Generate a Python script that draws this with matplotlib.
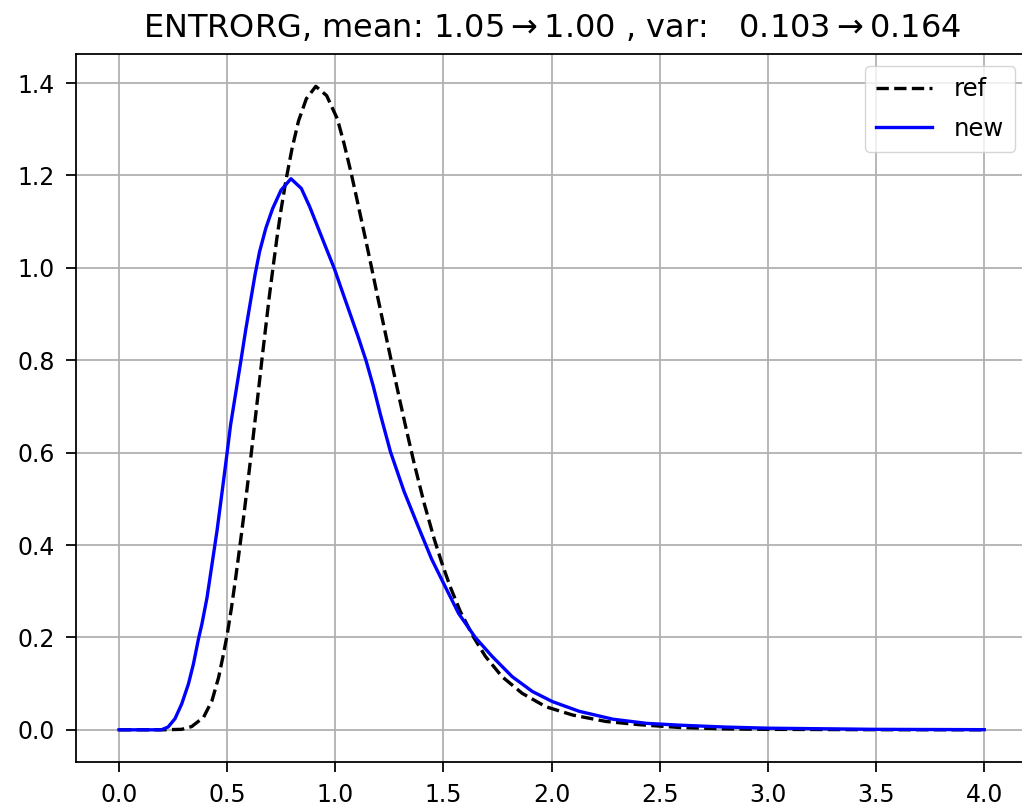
import matplotlib
matplotlib.use("Agg")
import matplotlib.pyplot as plt

# values
ref_x = [0.0, 0.20, 0.290, 0.336, 0.391, 0.430, 0.461, 0.480, 0.500, 0.520, 0.539,
         0.558, 0.575, 0.593, 0.611, 0.628, 0.645, 0.662, 0.679, 0.695, 0.712, 0.730,
         0.749, 0.772, 0.800, 0.830, 0.866, 0.910, 0.960, 1.010, 1.040, 1.072, 1.097,
         1.140, 1.168, 1.200, 1.240, 1.262, 1.298, 1.326, 1.364, 1.411, 1.458, 1.492,
         1.531, 1.578, 1.640, 1.694, 1.771, 1.864, 1.973, 2.097, 2.252, 2.407, 2.593,
         2.80, 3.00, 3.50, 4.00]
ref_y = [0.0, 0.0, 0.001, 0.007, 0.027, 0.063, 0.114, 0.157, 0.205, 0.264, 0.327,
         0.394, 0.456, 0.525, 0.596, 0.665, 0.735, 0.806, 0.874, 0.938, 1.000, 1.064,
         1.125, 1.190, 1.258, 1.318, 1.366, 1.393, 1.373, 1.322, 1.270, 1.208, 1.155,
         1.062, 1.000, 0.928, 0.840, 0.792, 0.714, 0.655, 0.578, 0.490, 0.412, 0.362,
         0.310, 0.256, 0.200, 0.159, 0.115, 0.079, 0.050, 0.032, 0.018, 0.011, 0.005,
         0.002, 0.001, 0.0002, 0.0]

new_x = [0.0, 0.196, 0.227, 0.259, 0.290, 0.321, 0.344, 0.368, 0.383, 0.407, 0.430,
         0.453, 0.477, 0.500, 0.516, 0.540, 0.564, 0.586, 0.609, 0.629, 0.650, 0.679,
         0.710, 0.749, 0.795, 0.843, 0.882, 0.921, 0.960, 0.996, 1.030, 1.069, 1.107,
         1.143, 1.175, 1.209, 1.255, 1.318, 1.380, 1.445, 1.506, 1.570, 1.647, 1.725,
         1.818, 1.911, 2.004, 2.128, 2.283, 2.438, 2.593, 2.80, 3.00, 3.50, 4.00]
new_y = [0.0, 0.0, 0.006, 0.024, 0.056, 0.099, 0.142, 0.198, 0.228, 0.286, 0.358,
         0.430, 0.516, 0.600, 0.660, 0.730, 0.800, 0.866, 0.930, 0.985, 1.035, 1.086,
         1.128, 1.168, 1.193, 1.172, 1.132, 1.086, 1.040, 0.998, 0.952, 0.900, 0.849,
         0.798, 0.745, 0.682, 0.602, 0.516, 0.444, 0.370, 0.312, 0.252, 0.200, 0.159,
         0.115, 0.083, 0.061, 0.040, 0.023, 0.014, 0.010, 0.006, 0.0035, 0.001, 0.0003]

title = r"ENTRORG, mean: $1.05\rightarrow1.00$ , var:   $0.103\rightarrow0.164$"

S = 1.6
plt.rcParams.update({
    "font.size": 17,
    "axes.linewidth": 0.8 * S,
    "xtick.major.width": 0.8 * S,
    "ytick.major.width": 0.8 * S,
    "xtick.major.size": 7.2,
    "ytick.major.size": 7.2,
    "xtick.major.pad": 7.8,
    "ytick.major.pad": 7.8,
    "grid.linewidth": 0.8 * S,
})

fig = plt.figure(figsize=(10.22, 8.07), dpi=100)
W, H = 1022.0, 807.0
left, right, top, bottom = 75.7, 1027.5, 54.0, 762.0
ax = fig.add_axes([left / W, (H - bottom) / H, (right - left) / W, (bottom - top) / H])

ax.plot(ref_x, ref_y, "k--", lw=1.5 * S, label="ref")
ax.plot(new_x, new_y, "b-", lw=1.5 * S, label="new")
ax.set_xlim(-0.2, 4.2)
ax.set_ylim(-0.0697, 1.463)
ax.set_xticks([0.0, 0.5, 1.0, 1.5, 2.0, 2.5, 3.0, 3.5, 4.0])
ax.set_yticks([0.0, 0.2, 0.4, 0.6, 0.8, 1.0, 1.2, 1.4])
ax.grid(True)
ax.set_title(title, fontsize=23, pad=12.5)
ax.legend(loc="upper right", fontsize=17.5, handlelength=2.3, labelspacing=0.65,
          handletextpad=0.9, borderpad=0.45)

fig.savefig("out.png", dpi=100)
